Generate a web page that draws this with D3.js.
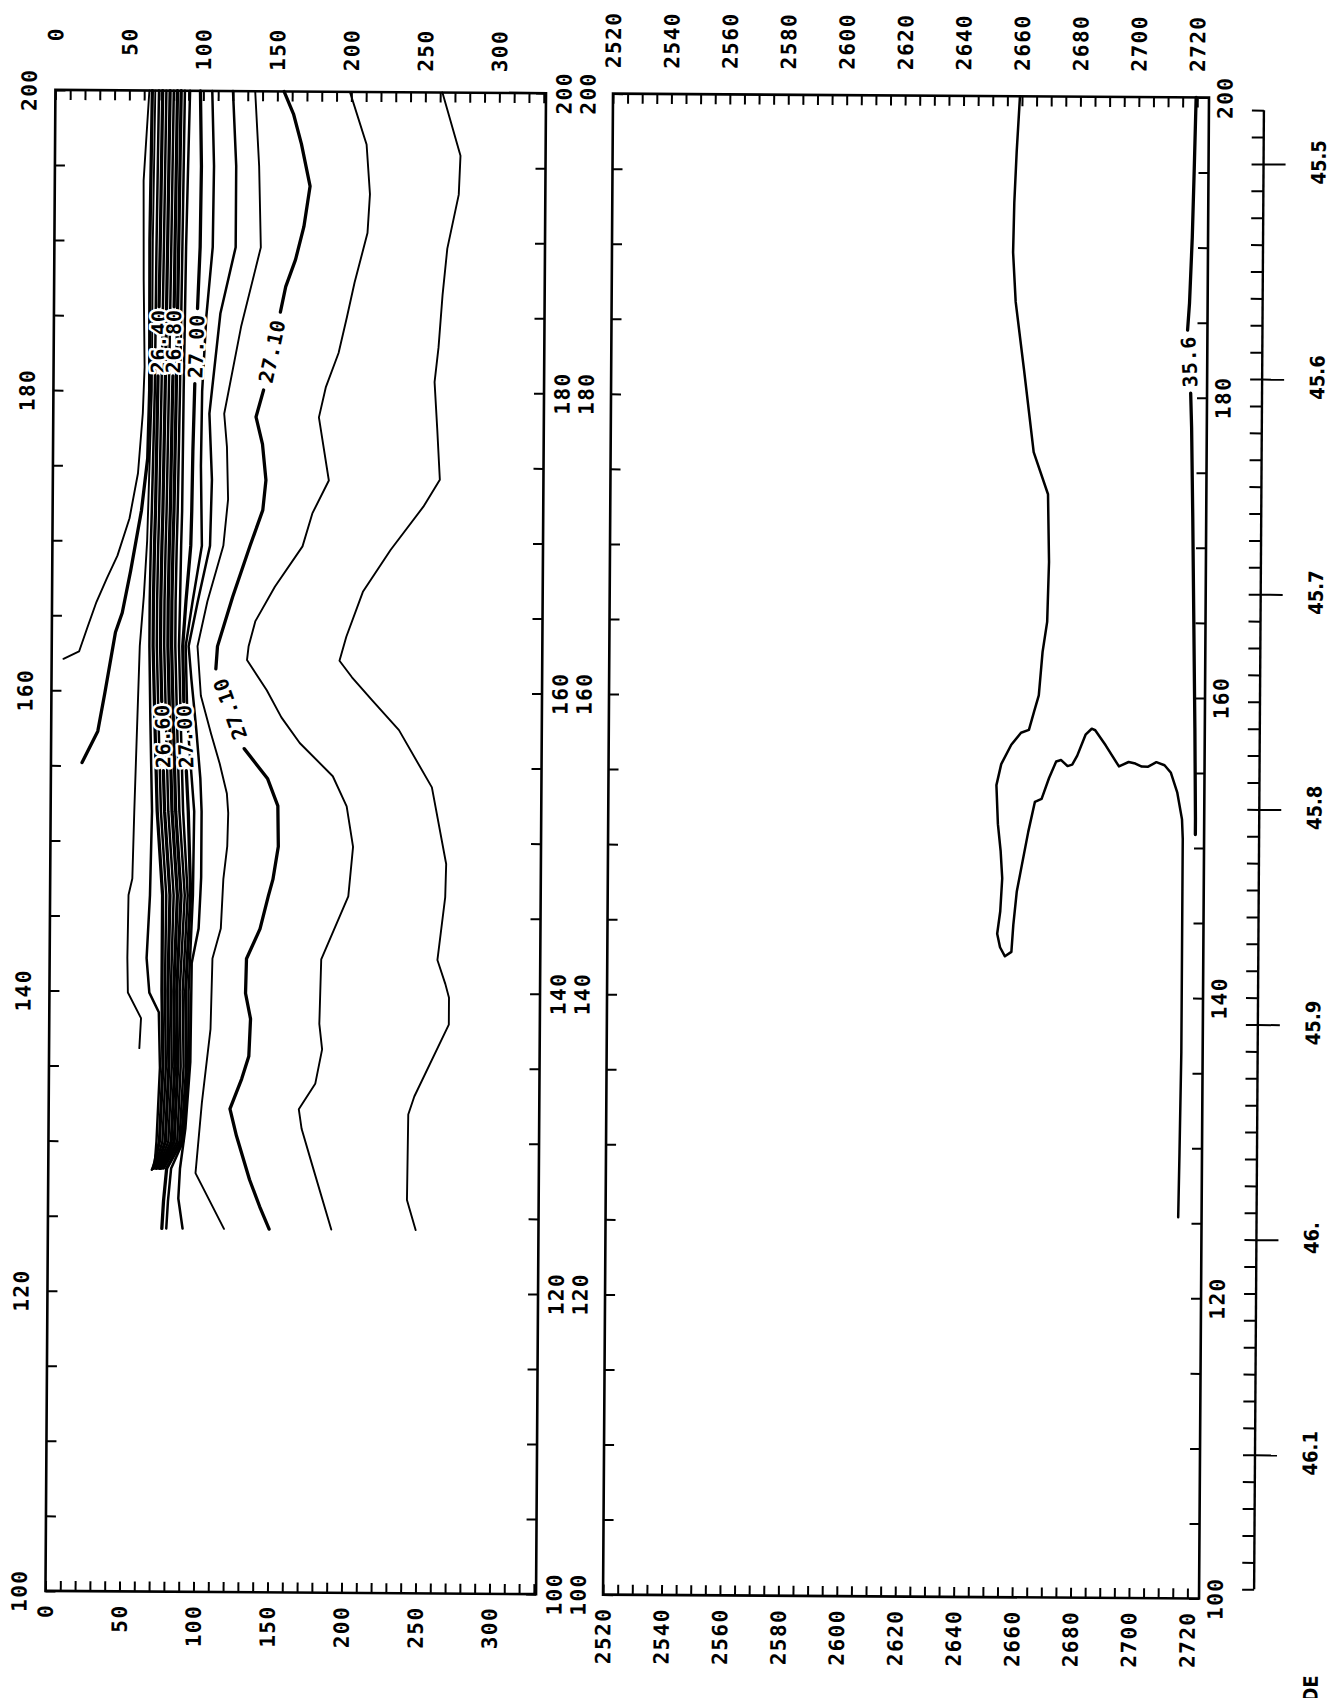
<!DOCTYPE html>
<html>
<head>
<meta charset="utf-8">
<script src="https://cdn.jsdelivr.net/npm/d3@7"></script>
<style>
  html, body { margin: 0; padding: 0; background: #fff; }
  svg { display: block; }
  .tl { font-family: "DejaVu Sans Mono", "Liberation Mono", monospace; font-weight: bold; font-size: 21px; letter-spacing: 1.5px; fill: #000; }
  .lat { font-family: "DejaVu Sans Condensed", "DejaVu Sans", sans-serif; font-stretch: condensed; font-weight: bold; font-size: 20px; fill: #000; }
  .cl { font-family: "DejaVu Sans Mono", "Liberation Mono", monospace; font-weight: bold; font-size: 20px; letter-spacing: 0.8px; fill: #000;
        stroke: #fff; stroke-width: 5px; paint-order: stroke; stroke-linejoin: round; }
</style>
</head>
<body>
<svg id="chart" width="1336" height="1698"></svg>
<script>
// ---- axis values ----
const distLabels = [100, 120, 140, 160, 180, 200];
const depthLabels = [0, 50, 100, 150, 200, 250, 300];
const pressureLabels = [2520, 2540, 2560, 2580, 2600, 2620, 2640, 2660, 2680, 2700, 2720];
const latLabels = [45.5, 45.6, 45.7, 45.8, 45.9, 46.0, 46.1];
const latLabelText = ["45.5", "45.6", "45.7", "45.8", "45.9", "46.", "46.1"];
// latitude reference points along the distance axis
const latRef = [45.5, 46.1];
const latRefDist = [195.6, 109.6];

// ---- sigma-t section (distance, depth m) ; null marks a label gap ----
const sigS1 = [[200,63.5],[194,60],[187.4,60.5],[181.6,61.5],[178.5,60.5],[174.5,57.5],[171.5,52],[169,44],[167.5,37],[165.9,30],[164.2,24],[162.6,18.5],[162.1,8]];
const sigS2 = [[200,65.5],[190,64.5],[180,65],[175.5,64],[172,60],[170,56.5],[168,53],[165.2,47.5],[163.9,43],[159.8,36],[157.3,31.5],[155.2,21]];
const sigS3 = [[200,67.5],[190,66.5],[180,66.5],[170,64],[166.3,62],[163,59.5],[157.5,58],[151.9,56.5],[147.5,55.5],[146.4,53],[142.2,52.5],[139.9,53],[138.2,62],[136.2,61]];
const sigB1 = [[200,70],[189.6,69],[180,68.5],[172,67],[169.7,66.5],[166,66],[163,66],[158,67],[152,68.5],[146.4,67.5],[142.2,65.5],[139.9,67.5],[138.6,74],[134.9,75],[130,73],[128.6,72],[128.1,70]];
const sigB2 = [[200,72.5],[189.6,71.5],[185.6,71],null,[181,70.6],[180,70.5],[172,69.5],[169.7,69],[166,68.5],[163,68.5],[158,70],[152,72],[146.4,76],[140,76],[135,77],[130,75],[128.2,71]];
const sigB3 = [[200,75],[189.6,74],[180,73],[172,72],[169.7,71.5],[166,71],[163,71],[158,72.5],[152,74.5],[146.4,78.5],[140,78],[135,79],[130,77],[128.2,72]];
const sigB4 = [[200,77.5],[189.6,76.5],[180,75.5],[172,74.5],[169.7,74],[166,73.5],[163,73.5],[159.3,74.6],null,[154.7,76],[152,77],[146.4,81],[140,80],[135,81],[130,79],[128.2,73]];
const sigB5 = [[200,80],[189.6,79],[180,78],[172,77],[169.7,76.5],[166,76],[163,76],[158,77.5],[152,79.5],[146.4,83.5],[140,82],[135,83],[130,81],[128.2,74]];
const sigB6 = [[200,82.5],[189.6,81.5],[185.6,81.2],null,[181,80.7],[180,80.5],[172,79.5],[169.7,79],[166,78.5],[163,78.5],[158,80],[152,82],[146.4,86],[140,84],[135,85],[130,83],[128.2,75]];
const sigB7 = [[200,85],[189.6,84],[180,83],[172,82],[169.7,81.5],[166,81],[163,81],[158,82.5],[152,84.5],[146.4,88.5],[140,86],[135,87],[130,85],[128.2,76]];
const sigM1 = [[200,87.5],[189.6,86.5],[180,85.5],[172,84.5],[169.7,84],[166,83.5],[163,83.5],[158,85],[152,87],[146.4,91],[140,88],[135,89],[130,87],[128.2,77]];
const sigM2 = [[200,91],[195,90],[189.6,89],[180,88],[172,87.5],[169.7,87],[166,86.5],[163,86],[158,87.5],[152,89.5],[146.4,93],[140,90],[135,91],[130,88.5],[128.2,78]];
const sigM3 = [[200,98],[195,99],[189.6,98.5],[185.5,97],null,[180.5,95.5],[176,94.5],[172,94],[169.7,93.5],[166,90.5],[163,88.5],[159.3,89.5],null,[154.7,91.5],[152,93],[146.4,95],[140,92],[135,93],[130,90],[128.2,80],[126,78],[124.2,77]];
const sigM4 = [[200,106],[195,107.5],[189.6,107],[185,103],[180,100.5],[175,100],[169.7,101],[166,95],[163,90.5],[158,92],[152,97],[146.4,96.5],[140,94],[135,94.5],[130,91],[128.2,83],[126,81],[124.2,80]];
const sigM5 = [[200,120],[195,122.5],[189.6,122.5],[185.2,112.5],[178.5,105.5],[174.1,107.5],[169.7,106.5],[166,98.5],[163,92.5],[160.8,94.5],[157.5,98],[154.2,101],[152,102],[147.6,102],[146.4,101.5],[144.2,100.5],[141.9,96],[135.3,95.5],[130.9,92.5],[128.2,89],[126.2,88],[124.2,91]];
const sigL4 = [[200,135],[195,138],[189.6,139.5],[184.3,126.5],[178.5,115.5],[176.3,117.5],[172.8,118.5],[169.7,115.5],[166,105],[163,98.5],[159.7,101],[157.2,108],[155.2,114],[153.2,119],[151.9,120],[149.7,119.5],[147.5,117],[144.2,115.5],[142.2,110],[137.5,109],[132.6,103.5],[127.9,99.5],[124.2,119]];
const sigL3 = [[200,154.5],[198.5,161],[196.5,166.5],[193.7,172.5],[191,168.5],[188.8,163],[187,156.5],[185.3,153],null,[180.1,142],[178.3,137],[176.5,141.5],[174.1,144],[172.1,142],[169.7,133.5],[166.3,122],[163,112],[161.5,111],null,[156.2,130.5],[154.2,146.5],[152.4,153.5],[149.7,154],[147.5,150.5],[146.4,147.5],[144.2,142],[142.2,133],[139.9,132.5],[138.2,136],[135.7,135],[134.2,130.3],[132.2,122.5],[130.4,127],[127.5,136],[125.7,143],[124.2,149.5]];
const sigL2 = [[200,199],[196.5,210.5],[193.2,213],[190.6,211.5],[187.3,203],[185,198],[182.6,192.5],[180.3,184],[178.3,179.5],[174.1,186.5],[171.9,175.5],[169.7,169],[167,150.5],[164.7,137.5],[163,133],[162.1,132],[160.1,145.5],[158.3,155.5],[156.6,168],[154.4,190.5],[152.4,200],[149.7,204.5],[146.4,201.5],[142.2,183.5],[137.9,182.5],[136.2,184.5],[133.9,180],[132.2,169],[130.9,171],[128.6,178],[124.2,191.5]];
const sigL1 = [[200,261.5],[195.8,274],[193.2,273],[189.6,265.5],[186.5,262.5],[183,260],[180.7,257.5],[177.6,259.5],[174.2,261.5],[172.4,250.5],[169.5,228.5],[166.7,210],[163.7,199],[162.1,194.5],[161,203],[159.5,216.5],[157.5,235],[153.7,257.5],[148.6,267.5],[146.4,267],[142.2,262],[140.6,267.5],[139.7,270],[137.9,270],[133.1,247],[131.9,243],[126.2,242.5],[124.2,248.5]];

// contour values written in each label gap, in order along the line
const sigLabels = {
  B2: ["26.40"], B6: ["26.80"], B4: ["26.60"],
  M3: ["27.00", "27.00"], L3: ["27.10", "27.10"]
};

// ---- deep section (distance, pressure dbar) ----
const deepR1 = [[200,2659.3],[196.3,2658.3],[192.9,2657.6],[189.6,2657.3],[186.3,2658.3],[181.8,2661.3],[176.3,2664.8],[173.5,2669.8],[169,2670.3],[165,2669.8],[163,2668.3],[160.1,2667.1],[159,2665.5],[157.8,2663.8],[157.6,2661.1],[156.8,2657.8],[155.5,2654.4],[154.1,2652.8],[151.5,2653.4],[149.7,2654.4],[147.9,2655],[145.7,2654.4],[144.2,2653.4],[143.3,2654.4],[142.7,2656.1],[143,2658.3],[144.8,2658.9],[147,2660],[148.8,2661.7],[151,2663.8],[153,2666],[153.2,2668.3],[154.6,2670.8],[155.7,2673.2],[155.8,2674.9],[155.4,2677.1],[155.5,2678.7],[156.1,2680.4],[157.5,2683.2],[157.9,2685.3],[157.8,2686.5],[156.8,2690.1],[155.4,2694.7],[155.7,2698],[155.6,2700.3],[155.4,2702.5],[155.4,2704.7],[155.7,2707.5],[155.5,2710.3],[155,2712.5],[153.7,2714.7],[151.9,2716.4],[150.6,2716.7],[136.4,2716.7],[129.7,2716.3],[125.4,2716]];
const deepR2 = [[200,2719.6],[195.1,2719.1],[190.7,2718.6],[186.3,2717.8],[184.5,2717.2],null,[180.3,2718.4],[178,2718.8],[172,2719.4],[165,2720],[158,2720.6],[152,2721],[150.9,2721]];
const deepLabels = { R2: ["35.6"] };

// ---- layout ----
const svg = d3.select("#chart");
svg.append("rect").attr("width", 1336).attr("height", 1698).attr("fill", "#fff");
const root = svg.append("g").attr("transform", "rotate(0.38 668 849)");

const y = d3.scaleLinear().domain([100, 200]).range([1595, 94]);
const xDepth = d3.scaleLinear().domain([0, 331.5]).range([50.4, 541]);
const xPres = d3.scaleLinear().domain([2520, 2724]).range([608, 1204]);
const latY = d3.scaleLinear().domain(latRef).range(latRefDist.map(y));

const lineDepth = d3.line().defined(d => d).x(d => xDepth(d[1])).y(d => y(d[0]));
const linePres = d3.line().defined(d => d).x(d => xPres(d[1])).y(d => y(d[0]));

const widthOf = { thin: 1.9, med: 2.5, heavy: 3.3 };

const sigmaSet = [
  ["S1", sigS1, "thin"], ["S2", sigS2, "heavy"], ["S3", sigS3, "thin"],
  ["B1", sigB1, "med"], ["B2", sigB2, "heavy"], ["B3", sigB3, "med"], ["B4", sigB4, "heavy"],
  ["B5", sigB5, "med"], ["B6", sigB6, "heavy"], ["B7", sigB7, "heavy"],
  ["M1", sigM1, "med"], ["M2", sigM2, "med"], ["M3", sigM3, "heavy"], ["M4", sigM4, "med"],
  ["M5", sigM5, "med"], ["L4", sigL4, "thin"], ["L3", sigL3, "heavy"], ["L2", sigL2, "thin"], ["L1", sigL1, "thin"]
];
const deepSet = [["R1", deepR1, "med"], ["R2", deepR2, "heavy"]];

const gLines = root.append("g").attr("fill", "none").attr("stroke", "#000")
  .attr("stroke-linejoin", "round").attr("stroke-linecap", "round");

sigmaSet.forEach(([, pts, w]) => gLines.append("path").attr("d", lineDepth(pts)).attr("stroke-width", widthOf[w]));
deepSet.forEach(([, pts, w]) => gLines.append("path").attr("d", linePres(pts)).attr("stroke-width", widthOf[w]));

// labels sit in the gaps, turned along the line (reading upward)
const gLab = root.append("g");
function labelGaps(pts, texts, xs) {
  let k = 0;
  pts.forEach((p, i) => {
    if (p !== null || k >= texts.length) return;
    const a = pts[i - 1], b = pts[i + 1];           // a = upper end, b = lower end
    const ax = xs(a[1]), ay = y(a[0]), bx = xs(b[1]), by = y(b[0]);
    const ang = Math.atan2(ay - by, ax - bx) * 180 / Math.PI;
    gLab.append("text").attr("class", "cl")
      .attr("transform", `translate(${(ax + bx) / 2},${(ay + by) / 2}) rotate(${ang})`)
      .attr("text-anchor", "middle").attr("dy", "0.36em").text(texts[k]);
    k++;
  });
}
sigmaSet.forEach(([id, pts]) => { if (sigLabels[id]) labelGaps(pts, sigLabels[id], xDepth); });
deepSet.forEach(([id, pts]) => { if (deepLabels[id]) labelGaps(pts, deepLabels[id], xPres); });

// ---- frames and ticks ----
function tickRow(axisFn, scale, values, size, tx, ty) {
  const g = root.append("g").attr("transform", `translate(${tx},${ty})`)
    .call(axisFn(scale).tickValues(values).tickSizeInner(size).tickSizeOuter(0).tickFormat(""));
  g.select(".domain").remove();
  g.selectAll("line").attr("stroke", "#000").attr("stroke-width", 2);
  return g;
}
const distMinor = d3.range(100, 201, 5);
const depthMinor = d3.range(0, 331, 10);
const presMinor = d3.range(2520, 2721, 5);

function frame(xs, x0, x1, minor) {
  root.append("rect").attr("x", xs(x0)).attr("y", y(200))
    .attr("width", xs(x1) - xs(x0)).attr("height", y(100) - y(200))
    .attr("fill", "none").attr("stroke", "#000").attr("stroke-width", 2.6);
  tickRow(d3.axisBottom, xs, minor, 10, 0, y(200));
  tickRow(d3.axisTop, xs, minor, 10, 0, y(100));
  tickRow(d3.axisRight, y, distMinor, 10, xs(x0), 0);
  tickRow(d3.axisLeft, y, distMinor, 10, xs(x1), 0);
}
frame(xDepth, 0, 331.5, depthMinor);
frame(xPres, 2520, 2724, presMinor);

// ---- latitude axis ----
const latX = 1259;
const latMinor = d3.range(0, 56).map(i => 45.475 + i * 0.0125);
root.append("line").attr("x1", latX).attr("x2", latX)
  .attr("y1", latY(45.475)).attr("y2", latY(46.1625))
  .attr("stroke", "#000").attr("stroke-width", 2.4);
tickRow(d3.axisLeft, latY, latMinor, 12, latX, 0);
tickRow(d3.axisRight, latY, latLabels, 22, latX, 0);

// ---- text ----
const gTxt = root.append("g");
function vlabel(x, yy, str, anchor, cls) {
  return gTxt.append("text").attr("class", cls)
    .attr("transform", `translate(${x},${yy}) rotate(-90)`)
    .attr("text-anchor", anchor).attr("dy", "0.36em").text(str);
}
[24, 559, 583, 1220].forEach(cx => distLabels.forEach(v => vlabel(cx, y(v), v, "middle", "tl")));
depthLabels.forEach(v => { vlabel(xDepth(v), 31, v, "end", "tl"); vlabel(xDepth(v), 1608, v, "end", "tl"); });
pressureLabels.forEach(v => { vlabel(xPres(v), 12, v, "end", "tl"); vlabel(xPres(v), 1608, v, "end", "tl"); });
latLabels.forEach((v, i) => vlabel(1314, latY(v) - 2, latLabelText[i], "middle", "lat"));
vlabel(1316, 1671, "LATITUDE", "end", "lat");
</script>
</body>
</html>
